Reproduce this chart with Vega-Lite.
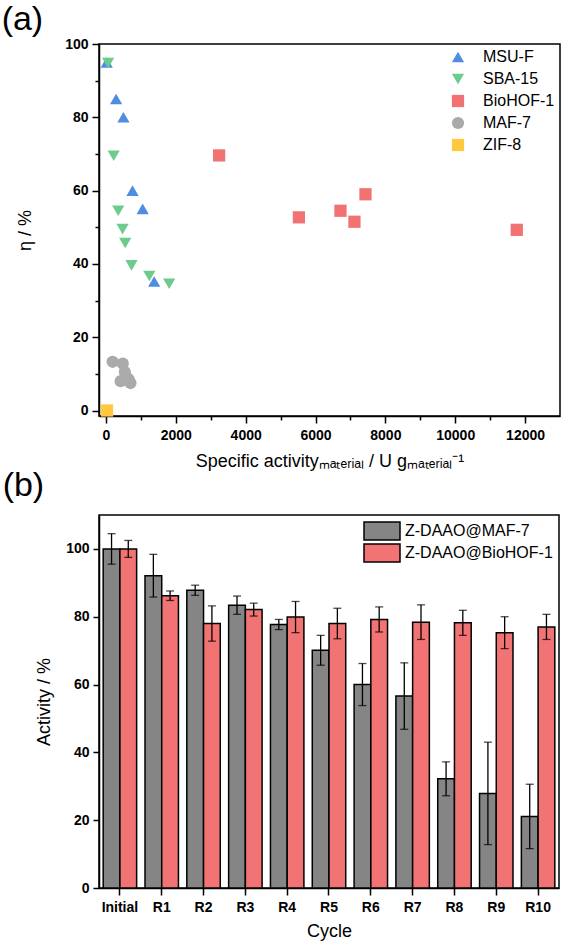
{
  "$schema": "https://vega.github.io/schema/vega-lite/v6.json",
  "padding": {"left": 0, "top": 2, "right": 4, "bottom": 4},
  "spacing": -3,
  "resolve": {
    "scale": {"color": "independent", "shape": "independent", "fill": "independent"},
    "legend": {"color": "independent", "shape": "independent", "fill": "independent"}
  },
  "config": {
    "font": "Liberation Sans",
    "view": {"stroke": "black", "strokeWidth": 1.5},
    "axis": {
      "domainColor": "black", "domainWidth": 1.5,
      "tickColor": "black", "tickWidth": 1.5,
      "labelFont": "Liberation Sans", "labelFontWeight": "bold", "labelFontSize": 14, "labelColor": "black",
      "titleFont": "Liberation Sans", "titleFontWeight": "normal", "titleFontSize": 18, "titleColor": "black",
      "grid": false
    },
    "title": {"anchor": "start", "frame": "bounds", "fontSize": 34, "fontWeight": "normal", "font": "Liberation Sans", "color": "black"}
  },
  "vconcat": [
    {
      "title": {"text": "(a)", "dx": -15, "offset": 0},
      "width": 461,
      "height": 372,
      "data": {"values": [
        {"material": "MSU-F", "activity": 20, "eta": 95},
        {"material": "MSU-F", "activity": 290, "eta": 85},
        {"material": "MSU-F", "activity": 500, "eta": 80},
        {"material": "MSU-F", "activity": 760, "eta": 60},
        {"material": "MSU-F", "activity": 1050, "eta": 55},
        {"material": "MSU-F", "activity": 1380, "eta": 35.2},
        {"material": "SBA-15", "activity": 60, "eta": 94.8},
        {"material": "SBA-15", "activity": 220, "eta": 69.5},
        {"material": "SBA-15", "activity": 350, "eta": 54.5},
        {"material": "SBA-15", "activity": 475, "eta": 49.5},
        {"material": "SBA-15", "activity": 550, "eta": 45.7},
        {"material": "SBA-15", "activity": 730, "eta": 39.6},
        {"material": "SBA-15", "activity": 1240, "eta": 36.7},
        {"material": "SBA-15", "activity": 1810, "eta": 34.6},
        {"material": "BioHOF-1", "activity": 3240, "eta": 69.6},
        {"material": "BioHOF-1", "activity": 5524, "eta": 52.7},
        {"material": "BioHOF-1", "activity": 6714, "eta": 54.5},
        {"material": "BioHOF-1", "activity": 7114, "eta": 51.5},
        {"material": "BioHOF-1", "activity": 7430, "eta": 59},
        {"material": "BioHOF-1", "activity": 11762, "eta": 49.3},
        {"material": "MAF-7", "activity": 190, "eta": 13.3},
        {"material": "MAF-7", "activity": 480, "eta": 12.8},
        {"material": "MAF-7", "activity": 540, "eta": 10.5},
        {"material": "MAF-7", "activity": 570, "eta": 9.3},
        {"material": "MAF-7", "activity": 420, "eta": 8},
        {"material": "MAF-7", "activity": 650, "eta": 8.5},
        {"material": "MAF-7", "activity": 700, "eta": 7.5},
        {"material": "ZIF-8", "activity": 30, "eta": 0}
      ]},
      "mark": {"type": "point", "filled": true, "opacity": 1, "size": 150, "strokeWidth": 0},
      "encoding": {
        "x": {
          "field": "activity", "type": "quantitative",
          "scale": {"domain": [-200, 13000], "nice": false, "zero": false},
          "axis": {
            "values": [0, 1000, 2000, 3000, 4000, 5000, 6000, 7000, 8000, 9000, 10000, 11000, 12000],
            "format": "d",
            "labelExpr": "datum.value % 2000 === 0 ? datum.label : ''",
            "tickSize": {"condition": {"test": "datum.value % 2000 === 0", "value": 7}, "value": 4},
            "labelPadding": 5,
            "titlePadding": 10,
            "title": "Specific activityₘₐₜₑᵣᵢₐₗ / U gₘₐₜₑᵣᵢₐₗ⁻¹"
          }
        },
        "y": {
          "field": "eta", "type": "quantitative",
          "scale": {"domain": [-1.5, 100], "nice": false, "zero": false},
          "axis": {
            "values": [0, 10, 20, 30, 40, 50, 60, 70, 80, 90, 100],
            "labelExpr": "datum.value % 20 === 0 ? datum.label : ''",
            "tickSize": {"condition": {"test": "datum.value % 20 === 0", "value": 7}, "value": 4},
            "labelPadding": 4,
            "titlePadding": 30,
            "title": "η / %"
          }
        },
        "color": {
          "field": "material", "type": "nominal",
          "scale": {"domain": ["MSU-F", "SBA-15", "BioHOF-1", "MAF-7", "ZIF-8"], "range": ["#4F8DE3", "#6DCB8D", "#F07272", "#AAAAAA", "#FFC83D"]},
          "legend": {"orient": "top-right", "title": null, "offset": 5, "padding": 0, "labelFontSize": 16, "labelColor": "black", "symbolSize": 150, "rowPadding": 6, "labelOffset": 17, "symbolStrokeWidth": 0}
        },
        "shape": {
          "field": "material", "type": "nominal",
          "scale": {"domain": ["MSU-F", "SBA-15", "BioHOF-1", "MAF-7", "ZIF-8"], "range": ["triangle-up", "triangle-down", "square", "circle", "square"]},
          "legend": {"orient": "top-right", "title": null, "offset": 5, "padding": 0, "labelFontSize": 16, "labelColor": "black", "symbolSize": 150, "rowPadding": 6, "labelOffset": 17, "symbolStrokeWidth": 0}
        }
      }
    },
    {
      "title": {"text": "(b)", "dx": -33, "offset": 12},
      "width": 460,
      "height": 373,
      "data": {"values": [
        {"cycle": "Initial", "sample": "Z-DAAO@MAF-7", "activity": 100, "lo": 95.5, "hi": 104.5},
        {"cycle": "Initial", "sample": "Z-DAAO@BioHOF-1", "activity": 100, "lo": 97.5, "hi": 102.5},
        {"cycle": "R1", "sample": "Z-DAAO@MAF-7", "activity": 92.1, "lo": 85.8, "hi": 98.4},
        {"cycle": "R1", "sample": "Z-DAAO@BioHOF-1", "activity": 86.2, "lo": 84.8, "hi": 87.6},
        {"cycle": "R2", "sample": "Z-DAAO@MAF-7", "activity": 87.8, "lo": 86.3, "hi": 89.3},
        {"cycle": "R2", "sample": "Z-DAAO@BioHOF-1", "activity": 78, "lo": 72.8, "hi": 83.2},
        {"cycle": "R3", "sample": "Z-DAAO@MAF-7", "activity": 83.4, "lo": 80.7, "hi": 86.1},
        {"cycle": "R3", "sample": "Z-DAAO@BioHOF-1", "activity": 82.1, "lo": 80.2, "hi": 84},
        {"cycle": "R4", "sample": "Z-DAAO@MAF-7", "activity": 77.7, "lo": 76.2, "hi": 79.2},
        {"cycle": "R4", "sample": "Z-DAAO@BioHOF-1", "activity": 79.9, "lo": 75.3, "hi": 84.5},
        {"cycle": "R5", "sample": "Z-DAAO@MAF-7", "activity": 70.1, "lo": 65.7, "hi": 74.5},
        {"cycle": "R5", "sample": "Z-DAAO@BioHOF-1", "activity": 78, "lo": 73.5, "hi": 82.5},
        {"cycle": "R6", "sample": "Z-DAAO@MAF-7", "activity": 60, "lo": 53.8, "hi": 66.2},
        {"cycle": "R6", "sample": "Z-DAAO@BioHOF-1", "activity": 79.2, "lo": 75.5, "hi": 82.9},
        {"cycle": "R7", "sample": "Z-DAAO@MAF-7", "activity": 56.6, "lo": 46.8, "hi": 66.4},
        {"cycle": "R7", "sample": "Z-DAAO@BioHOF-1", "activity": 78.4, "lo": 73.3, "hi": 83.5},
        {"cycle": "R8", "sample": "Z-DAAO@MAF-7", "activity": 32.2, "lo": 27.2, "hi": 37.2},
        {"cycle": "R8", "sample": "Z-DAAO@BioHOF-1", "activity": 78.2, "lo": 74.5, "hi": 81.9},
        {"cycle": "R9", "sample": "Z-DAAO@MAF-7", "activity": 27.9, "lo": 12.8, "hi": 43},
        {"cycle": "R9", "sample": "Z-DAAO@BioHOF-1", "activity": 75.3, "lo": 70.6, "hi": 80},
        {"cycle": "R10", "sample": "Z-DAAO@MAF-7", "activity": 21.1, "lo": 11.6, "hi": 30.6},
        {"cycle": "R10", "sample": "Z-DAAO@BioHOF-1", "activity": 77, "lo": 73.3, "hi": 80.7}
      ]},
      "encoding": {
        "x": {
          "field": "cycle", "type": "nominal",
          "sort": ["Initial", "R1", "R2", "R3", "R4", "R5", "R6", "R7", "R8", "R9", "R10"],
          "scale": {"paddingInner": 0.2, "paddingOuter": 0.1},
          "axis": {"labelAngle": 0, "tickSize": 7, "labelPadding": 5, "titlePadding": 8, "title": "Cycle"}
        },
        "xOffset": {
          "field": "sample", "type": "nominal",
          "sort": ["Z-DAAO@MAF-7", "Z-DAAO@BioHOF-1"],
          "scale": {"paddingInner": 0, "paddingOuter": 0}
        }
      },
      "layer": [
        {
          "mark": {"type": "bar", "stroke": "black", "strokeWidth": 1.5},
          "encoding": {
            "y": {
              "field": "activity", "type": "quantitative",
              "scale": {"domain": [0, 110], "nice": false},
              "axis": {
                "values": [0, 10, 20, 30, 40, 50, 60, 70, 80, 90, 100, 110],
                "labelExpr": "datum.value % 20 === 0 ? datum.label : ''",
                "tickSize": {"condition": {"test": "datum.value % 20 === 0", "value": 6}, "value": 3},
                "labelPadding": 4,
                "titlePadding": 12,
                "title": "Activity / %"
              }
            },
            "fill": {
              "field": "sample", "type": "nominal",
              "scale": {"domain": ["Z-DAAO@MAF-7", "Z-DAAO@BioHOF-1"], "range": ["#858585", "#F27373"]},
              "legend": {"orient": "top-right", "title": null, "offset": 6, "padding": 0, "labelFontSize": 16, "labelColor": "black", "symbolType": "M-2,-1H2V1H-2Z", "symbolSize": 324, "symbolStrokeColor": "black", "symbolStrokeWidth": 1.5, "rowPadding": -6, "labelOffset": 13}
            }
          }
        },
        {
          "mark": {"type": "rule", "color": "black", "strokeWidth": 1.3},
          "encoding": {
            "y": {"field": "lo", "type": "quantitative", "title": "Activity / %"},
            "y2": {"field": "hi"}
          }
        },
        {
          "mark": {"type": "tick", "color": "black", "thickness": 1.3, "size": 8},
          "encoding": {"y": {"field": "lo", "type": "quantitative", "title": "Activity / %"}}
        },
        {
          "mark": {"type": "tick", "color": "black", "thickness": 1.3, "size": 8},
          "encoding": {"y": {"field": "hi", "type": "quantitative", "title": "Activity / %"}}
        }
      ]
    }
  ]
}
